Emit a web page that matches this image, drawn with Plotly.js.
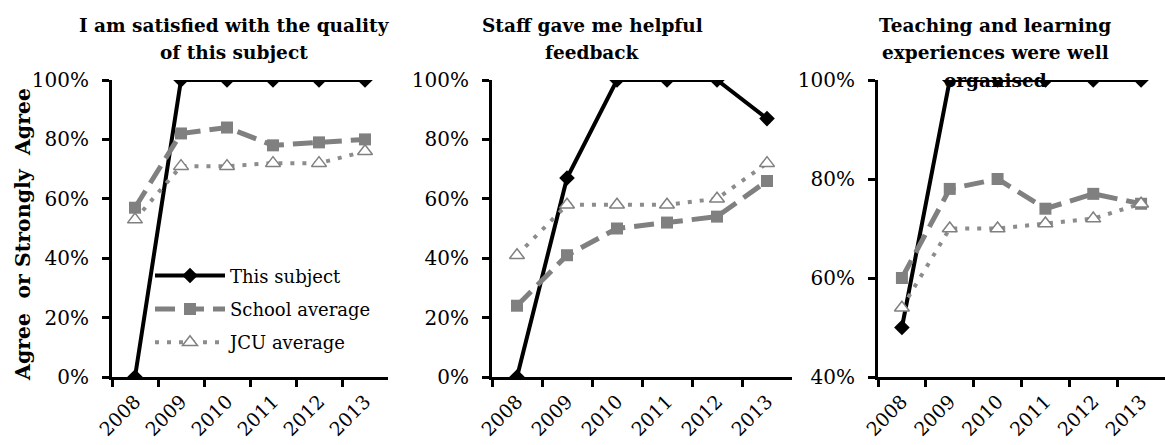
<!DOCTYPE html>
<html>
<head>
<meta charset="utf-8">
<script src="https://cdn.plot.ly/plotly-3.0.1.min.js"></script>
<style>html,body{margin:0;padding:0;background:#fff;}#chart{width:1165px;height:445px;}</style>
</head>
<body>
<div id="chart"></div>
<script>
const years = ["2008", "2009", "2010", "2011", "2012", "2013"];
const seriesNames = ["This subject", "School average", "JCU average"];
const panelTitles = [
  ["I am satisfied with the quality", "of this subject"],
  ["Staff gave me helpful", "feedback"],
  ["Teaching and learning", "experiences were well", "organised"]
];
// Panel 1: satisfied with quality
const p1Subject = [0, 100, 100, 100, 100, 100];
const p1School  = [57, 82, 84, 78, 79, 80];
const p1JCU     = [53, 71, 71, 72, 72, 76];
// Panel 2: helpful feedback
const p2Subject = [0, 67, 100, 100, 100, 87];
const p2School  = [24, 41, 50, 52, 54, 66];
const p2JCU     = [41, 58, 58, 58, 60, 72];
// Panel 3: well organised
const p3Subject = [50, 100, 100, 100, 100, 100];
const p3School  = [60, 78, 80, 74, 77, 75];
const p3JCU     = [54, 70, 70, 71, 72, 75];
const yTitle = "Agree  or Strongly  Agree";

const FONT = "DejaVu Serif";
const panels = [
  {s: p1Subject, sc: p1School, j: p1JCU},
  {s: p2Subject, sc: p2School, j: p2JCU},
  {s: p3Subject, sc: p3School, j: p3JCU}
];

const traces = [];
panels.forEach((p, i) => {
  const xa = i === 0 ? 'x' : 'x' + (i + 1);
  const ya = i === 0 ? 'y' : 'y' + (i + 1);
  const show = i === 0;
  traces.push({
    x: years, y: p.s, xaxis: xa, yaxis: ya, type: 'scatter', mode: 'lines+markers',
    name: seriesNames[0], showlegend: show, legendgroup: 'a',
    line: {color: '#000000', width: 4},
    marker: {symbol: 'diamond', size: 12, color: '#000000'}
  });
  traces.push({
    x: years, y: p.sc, xaxis: xa, yaxis: ya, type: 'scatter', mode: 'lines+markers',
    name: seriesNames[1], showlegend: show, legendgroup: 'b',
    line: {color: '#808080', width: 5, dash: '20px,9px'},
    marker: {symbol: 'square', size: 12, color: '#808080'}
  });
  traces.push({
    x: years, y: p.j, xaxis: xa, yaxis: ya, type: 'scatter', mode: 'lines+markers',
    name: seriesNames[2], showlegend: show, legendgroup: 'c',
    line: {color: '#8c8c8c', width: 4, dash: '4px,8px'},
    marker: {symbol: 'triangle-up', size: 13, color: '#ffffff', line: {color: '#808080', width: 1.5}}
  });
});

const W = 1165, PH = 297, TOP = 80;
const domains = [[112 / W, 388 / W], [492 / W, 792 / W], [878 / W, 1]];
const yRanges = [[0, 100], [0, 100], [40, 100]];
const yDtick = [20, 20, 20];

const layout = {
  width: 1165, height: 445,
  margin: {l: 0, r: 0, t: TOP, b: 68},
  paper_bgcolor: '#ffffff', plot_bgcolor: '#ffffff',
  font: {family: FONT, color: '#000000', size: 18},
  showlegend: true,
  legend: {
    x: 150 / W, y: 0.403, xanchor: 'left', yanchor: 'top',
    bgcolor: 'rgba(0,0,0,0)', font: {family: FONT, size: 18},
    itemwidth: 70, traceorder: 'grouped', tracegroupgap: 7
  },
  annotations: [],
  shapes: []
};

domains.forEach((d, i) => {
  const sfx = i === 0 ? '' : String(i + 1);
  layout['xaxis' + sfx] = {
    domain: d, type: 'category', range: [-0.5, 5.5], anchor: 'y' + sfx,
    tickson: 'boundaries', ticks: 'outside', ticklen: 7, tickwidth: 3, tickcolor: '#000',
    showline: true, linecolor: '#000', linewidth: 3, showgrid: false, zeroline: false,
    tickangle: -45, tickfont: {family: FONT, size: 19}, ticklabelstandoff: 3, fixedrange: true
  };
  layout['yaxis' + sfx] = {
    domain: [0, 1], range: yRanges[i], anchor: 'x' + sfx,
    dtick: yDtick[i], ticksuffix: '%', ticks: 'outside', ticklen: 7, tickwidth: 3, tickcolor: '#000',
    showline: true, linecolor: '#000', linewidth: 3, showgrid: false, zeroline: false,
    tickfont: {family: FONT, size: 20}, ticklabelstandoff: 9, fixedrange: true
  };
});

const titleX = [234, 592, 995];
const lineY = [25, 52, 80];
panelTitles.forEach((lines, i) => {
  lines.forEach((t, k) => {
    layout.annotations.push({
      text: '<b>' + t + '</b>', xref: 'paper', yref: 'paper',
      x: titleX[i] / W, y: 1 + (TOP - lineY[k]) / PH, xanchor: 'center', yanchor: 'middle',
      showarrow: false, align: 'center',
      font: {family: FONT, size: 18.5, color: '#000'}
    });
  });
});
layout.annotations.push({
  text: '<b>' + yTitle + '</b>', xref: 'paper', yref: 'paper',
  x: 23 / W, y: (377 - 235) / PH, xanchor: 'center', yanchor: 'middle',
  textangle: -90, showarrow: false,
  font: {family: FONT, size: 20.5, color: '#000'}
});

Plotly.newPlot('chart', traces, layout, {staticPlot: true, displayModeBar: false});
</script>
</body>
</html>
